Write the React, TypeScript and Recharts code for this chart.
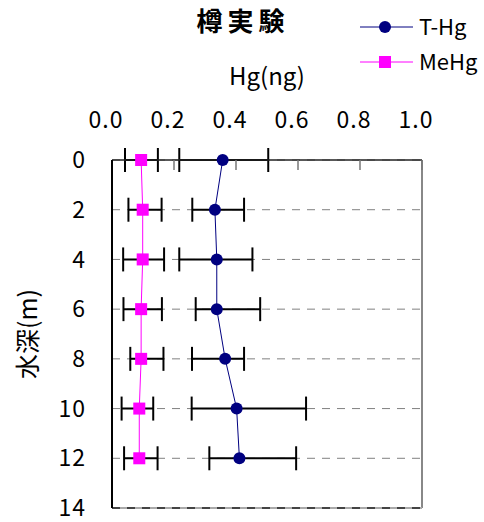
import { ComposedChart, Line, XAxis, YAxis, CartesianGrid, ErrorBar, ReferenceLine, Legend } from 'recharts';

const depths = [0, 2, 4, 6, 8, 10, 12];
const tHg = [0.357, 0.332, 0.338, 0.338, 0.365, 0.402, 0.411];
const tHgErrLow = [0.14, 0.073, 0.121, 0.068, 0.107, 0.145, 0.097];
const tHgErrHigh = [0.147, 0.094, 0.115, 0.14, 0.061, 0.224, 0.183];
const meHg = [0.094, 0.099, 0.099, 0.094, 0.094, 0.088, 0.088];
const meHgErrLow = [0.052, 0.046, 0.063, 0.057, 0.035, 0.057, 0.049];
const meHgErrHigh = [0.054, 0.061, 0.069, 0.067, 0.072, 0.045, 0.059];
const xTicks = [0, 0.2, 0.4, 0.6, 0.8, 1.0];
const yTicks = [0, 2, 4, 6, 8, 10, 12, 14];

const data = depths.map((d, i) => ({
  depth: d,
  tHg: tHg[i],
  tHgErr: [tHgErrLow[i], tHgErrHigh[i]],
  meHg: meHg[i],
  meHgErr: [meHgErrLow[i], meHgErrHigh[i]],
}));

const font = '"Noto Sans CJK JP", "Noto Sans", sans-serif';

const SquareDot = (props: any) => {
  const { cx, cy, index } = props;
  if (cx == null || cy == null) return null;
  return <rect key={index} x={cx - 6} y={cy - 6} width={12} height={12} fill="#FF00FF" />;
};

const LegendBox = () => (
  <svg width={124} height={72} style={{ fontFamily: font, overflow: 'visible' }}>
    <line x1={0} y1={13} x2={53} y2={13} stroke="#000080" strokeWidth={1} />
    <circle cx={25} cy={13} r={6} fill="#000080" />
    <text x={59} y={21} fontSize={22} fill="#000">T-Hg</text>
    <line x1={0} y1={48} x2={53} y2={48} stroke="#FF00FF" strokeWidth={1} />
    <rect x={19} y={42} width={12} height={12} fill="#FF00FF" />
    <text x={59} y={56} fontSize={22} fill="#000">MeHg</text>
  </svg>
);

export default function App() {
  return (
    <div style={{ position: 'absolute', left: 0, top: 0, width: 484, height: 522, background: '#fff', fontFamily: font }}>
      <ComposedChart
        width={484}
        height={522}
        layout="vertical"
        data={data}
        margin={{ top: 120, right: 62, left: 0, bottom: 14 }}
        style={{ position: 'absolute', left: 0, top: 0 }}
      >
        <CartesianGrid horizontal vertical={false} stroke="#808080" strokeDasharray="8 7" />
        <XAxis
          type="number"
          orientation="top"
          domain={[0, 1]}
          ticks={xTicks}
          height={40}
          tickFormatter={(v: number) => v.toFixed(1)}
          tick={{ fontSize: 23, fill: '#000', fontFamily: font, letterSpacing: 1, dx: -6 }}
          axisLine={{ stroke: '#222', strokeWidth: 1.5 }}
          tickLine={{ stroke: '#777', strokeWidth: 1.5 }}
          tickSize={-10}
          tickMargin={42}
        />
        <YAxis
          type="number"
          dataKey="depth"
          domain={[0, 14]}
          ticks={yTicks}
          interval={0}
          width={112}
          tick={{ fontSize: 23, fill: '#000', fontFamily: font, letterSpacing: 1 }}
          axisLine={{ stroke: '#000', strokeWidth: 2 }}
          tickLine={false}
          tickSize={0}
          tickMargin={26}
        />
        <ReferenceLine x={1} stroke="#888" strokeWidth={2} />
        <ReferenceLine y={14} stroke="#aaa" strokeWidth={2} />
        <ReferenceLine y={14} stroke="#444" strokeWidth={2} strokeDasharray="8 7" />
        <Legend
          layout="vertical"
          align="center"
          verticalAlign="middle"
          content={() => <LegendBox />}
          wrapperStyle={{ left: 360, top: 14, width: 124, height: 72 }}
        />
        <Line
          dataKey="tHg"
          name="T-Hg"
          stroke="#000080"
          strokeWidth={1}
          dot={{ r: 6, fill: '#000080', stroke: 'none' }}
          isAnimationActive={false}
        >
          <ErrorBar dataKey="tHgErr" direction="x" width={12} stroke="#000" strokeWidth={2} />
        </Line>
        <Line
          dataKey="meHg"
          name="MeHg"
          stroke="#FF00FF"
          strokeWidth={1}
          dot={SquareDot}
          isAnimationActive={false}
        >
          <ErrorBar dataKey="meHgErr" direction="x" width={12} stroke="#000" strokeWidth={2} />
        </Line>
      </ComposedChart>
      <svg width={340} height={100} style={{ position: 'absolute', left: 0, top: 0, fontFamily: font }}>
        <text x={243} y={31} textAnchor="middle" fontSize={26} fontWeight="bold" letterSpacing={5} fill="#000">樽実験</text>
        <text x={267} y={85} textAnchor="middle" fontSize={24} fill="#000">Hg(ng)</text>
      </svg>
      <svg width={60} height={522} style={{ position: 'absolute', left: 0, top: 0, fontFamily: font }}>
        <text x={37} y={334} textAnchor="middle" fontSize={25} fill="#000" transform="rotate(-90 37 334)">水深(m)</text>
      </svg>
    </div>
  );
}
